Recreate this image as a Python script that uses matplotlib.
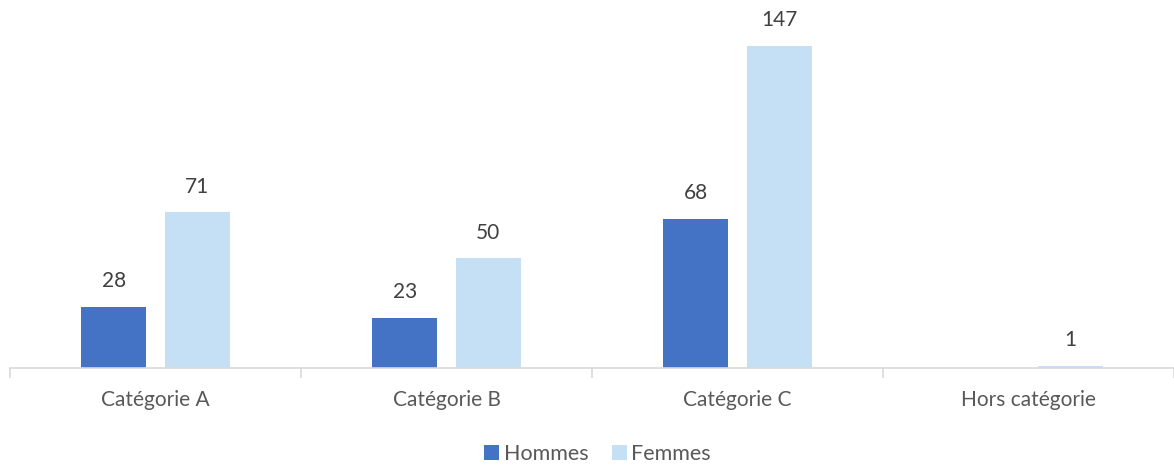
import matplotlib.pyplot as plt
import numpy as np

categories = ["Catégorie A", "Catégorie B", "Catégorie C", "Hors catégorie"]
hommes = [28, 23, 68, 0]
femmes = [71, 50, 147, 1]

plt.rcParams['font.family'] = ['Lato', 'DejaVu Sans']

fig = plt.figure(figsize=(11.74, 4.66), dpi=100)
# axes spans x 10..1174 px, baseline at y=368 px
ax = fig.add_axes([10/1174, 1 - 368/466, 1164/1174, (368 - 17)/466])

x = np.arange(len(categories))
w = 0.224
off = 0.143
b1 = ax.bar(x - off, hommes, w, color="#4472C4", label="Hommes")
b2 = ax.bar(x + off, femmes, w, color="#C5E0F4", label="Femmes")

for rects, vals in [(b1, hommes), (b2, femmes)]:
    for r, v in zip(rects, vals):
        if v == 0:
            continue
        ax.text(r.get_x() + r.get_width()/2, v + 7, str(v), ha="center", va="bottom",
                fontsize=15, color="#404040")

ax.set_xlim(-0.5, len(categories) - 0.5)
ax.set_ylim(0, 160)
ax.set_yticks([])
for s in ["top", "right", "left"]:
    ax.spines[s].set_visible(False)
ax.spines["bottom"].set_color("#D9D9D9")
ax.spines["bottom"].set_linewidth(1.2)

ax.set_xticks(x)
ax.set_xticklabels(categories, fontsize=15, color="#595959")
ax.tick_params(axis="x", length=0, pad=16)
ax.set_xticks(np.arange(len(categories) + 1) - 0.5, minor=True)
ax.tick_params(axis="x", which="minor", length=7, color="#D9D9D9", width=1.2)

ax.legend(loc="center", bbox_to_anchor=(0.5047, -0.245), ncol=2, frameon=False,
          fontsize=15.5, handlelength=0.7, handleheight=0.7, handletextpad=0.2,
          columnspacing=1.1, labelcolor="#595959")

fig.savefig("out.png", dpi=100)
